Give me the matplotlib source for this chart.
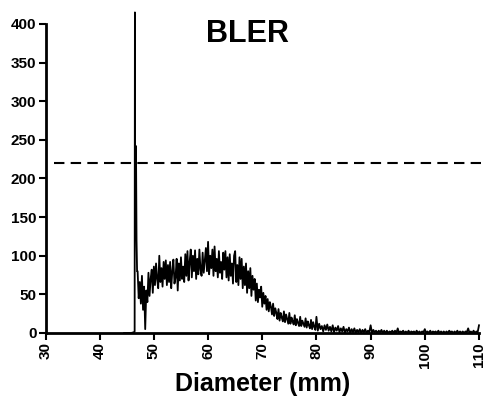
import numpy as np
import matplotlib
matplotlib.use("Agg")
import matplotlib.pyplot as plt

plt.rcParams['font.family'] = ['Liberation Sans', 'DejaVu Sans']
plt.rcParams['font.weight'] = 'bold'

# initial segment with spike
spike_x = [44.5, 45.8, 46.3, 46.45, 46.5, 46.55, 46.7, 46.8, 46.9]
spike_y = [0, 0, 1, 2, 415, 150, 242, 120, 80]

# main noisy segment, 47.0 .. 80.0 step 0.2
main_start, main_step = 47.0, 0.2
main_y = [
    80, 45, 66, 38, 74,
    30, 60, 5, 55, 40,
    78, 48, 70, 82, 52,
    86, 62, 90, 70, 58,
    100, 66, 84, 60, 92,
    70, 94, 62, 88, 66,
    92, 58, 80, 95, 64,
    72, 96, 55, 90, 68,
    98, 70, 86, 66, 102,
    74, 106, 68, 92, 108,
    72, 100, 80, 107, 70,
    96, 76, 108, 82, 74,
    104, 78, 94, 110, 80,
    118, 76, 100, 84, 108,
    74, 112, 80, 96, 72,
    106, 78, 92, 70, 104,
    82, 106, 72, 98, 68,
    102, 74, 90, 64, 100,
    106, 66, 88, 62, 98,
    70, 96, 58, 86, 62,
    90, 52, 80, 58, 84,
    48, 74, 56, 70, 42,
    64, 40, 56, 46, 60,
    34, 52, 38, 48, 30,
    44, 28, 40, 34, 24,
    38, 22, 32, 26, 18,
    31, 16, 26, 20, 15,
    28, 14, 24, 18, 12,
    26, 12, 20, 15, 11,
    23, 10, 18, 13, 9,
    21, 9, 16, 12, 8,
    19, 7, 15, 10, 6,
    17, 5, 14, 8, 4,
    21,
]

# tail segment, 80.25 .. 110 step 0.25
tail_start, tail_step = 80.25, 0.25
tail_y = [
    3, 12, 5, 9,   2, 10, 4, 11,  3, 8, 2, 10,  1, 7, 3, 9,
    1, 6, 2, 8,    0, 5, 2, 7,    0, 5, 1, 6,   0, 4, 1, 5,
    0, 4, 1, 5,    0, 3, 1, 10,   0, 4, 1, 3,   0, 3, 1, 4,
    0, 3, 0, 3,    0, 2, 1, 3,    0, 3, 0, 6,   0, 2, 1, 3,
    0, 2, 0, 3,    0, 2, 1, 2,    0, 3, 0, 2,   0, 2, 1, 5,
    0, 2, 0, 3,    0, 2, 1, 2,    0, 3, 0, 2,   0, 2, 0, 2,
    0, 3, 1, 2,    0, 2, 0, 3,    0, 2, 0, 2,   0, 2, 1, 6,
    0, 2, 0, 3,    0, 2, 1, 10,
]

threshold = 220
x_ticks = [30, 40, 50, 60, 70, 80, 90, 100, 110]
y_ticks = [0, 50, 100, 150, 200, 250, 300, 350, 400]

main_x = main_start + main_step * np.arange(len(main_y))
tail_x = tail_start + tail_step * np.arange(len(tail_y))
xs = np.concatenate([spike_x, main_x, tail_x])
ys = np.concatenate([spike_y, main_y, tail_y])

fig = plt.figure(figsize=(4.86, 3.97), dpi=100)
ax = fig.add_axes([45.5/486, 1-333/397, (479-45.5)/486, (333-24)/397])
ax.plot(xs, ys, color='black', lw=1.3, clip_on=False, zorder=3)
ax.axhline(threshold, color='black', lw=1.5, ls=(0, (5, 3)), xmin=0.02, xmax=1.005, clip_on=False)

ax.set_xlim(30, 110)
ax.set_ylim(0, 400)
ax.set_xticks(x_ticks)
ax.set_yticks(y_ticks)
ax.set_xticklabels([str(v) for v in x_ticks], rotation=90, fontsize=11, fontweight='bold')
ax.set_yticklabels([str(v) for v in y_ticks], fontsize=11, fontweight='bold')
for s in ['top', 'right']:
    ax.spines[s].set_visible(False)
for s in ['left', 'bottom']:
    ax.spines[s].set_linewidth(2)
ax.tick_params(direction='out', length=5, width=1.5, pad=1.5)
ax.set_xlabel('Diameter (mm)', fontsize=18, fontweight='bold', labelpad=3)
ax.text(67.2, 387, 'BLER', ha='center', va='center', fontsize=22, fontweight='bold')

fig.savefig('out.png', dpi=100)
